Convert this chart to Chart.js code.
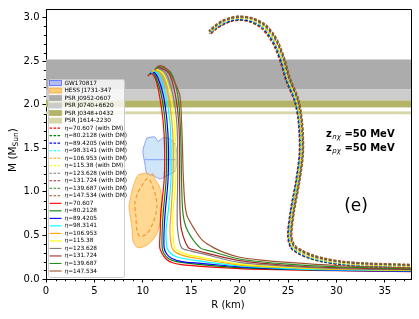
<!DOCTYPE html>
<html><head><meta charset="utf-8">
<script src="https://cdn.jsdelivr.net/npm/chart.js@4.4.0/dist/chart.umd.min.js"></script>
<style>html,body{margin:0;padding:0;background:#fff;}canvas{display:block;}</style>
</head><body>
<canvas id="c" width="419" height="319"></canvas>
<script>
// ---------- data ----------
const etaValues = ['70.607','80.2128','89.4205','98.3141','106.953','115.38','123.628','131.724','139.687','147.534'];
const xTickValues = [0,5,10,15,20,25,30,35];
const yTickValues = [0,0.5,1.0,1.5,2.0,2.5,3.0];
const pulsarNames = ['PSR J0952-0607','PSR J0740+6620','PSR J0348+0432','PSR J1614-2230'];
const pulsarLow  = [2.18, 2.05, 1.97, 1.892];
const pulsarHigh = [2.52, 2.18, 2.05, 1.924];

const gwR = [10.42,11.25,11.56,12.07,12.59,13.31,13.52,13.52,13.31,12.59,11.76,11.04,10.42,10.22,10.01,10.22,10.42];
const gwM = [1.62,1.63,1.58,1.62,1.62,1.55,1.44,1.36,1.24,1.19,1.15,1.19,1.21,1.32,1.47,1.56,1.62];
const gwLineR = [10.2,13.5];
const gwLineM = [1.37,1.37];
const hessR = [10.42,10.73,11.04,11.25,11.76,11.97,11.97,11.66,11.25,10.42,9.49,8.98,8.88,8.57,8.67,8.98,9.49,10.01,10.42];
const hessM = [1.22,1.19,1.21,1.15,1.05,0.90,0.75,0.59,0.48,0.39,0.36,0.44,0.59,0.82,0.90,1.05,1.19,1.21,1.22];
const hessInnerR = [10.73,11.25,11.46,11.04,10.42,9.70,9.39,9.29,9.18,9.49,10.01,10.42,10.73];
const hessInnerM = [1.14,0.99,0.82,0.64,0.52,0.49,0.56,0.71,0.87,0.99,1.09,1.15,1.14];

// M-R curves without dark matter: [R (km), M (Msun)]
const curvesNoDM = [
 [[40,0.083],[38,0.085],[30,0.095],[25,0.105],[20,0.12],[16,0.145],[14,0.165],[13,0.19],[12.4,0.23],[12.0,0.29],[11.75,0.36],[11.8,0.56],[11.85,0.75],[12.2,1.13],[12.25,1.5],[12.1,1.81],[11.7,2.12],[11.3,2.30],[10.85,2.36],[10.5,2.33]],
 [[40,0.088],[38,0.09],[30,0.10],[25,0.11],[20,0.13],[16,0.165],[13.5,0.20],[12.7,0.23],[12.2,0.29],[12.0,0.36],[12.0,0.56],[12.1,0.75],[12.4,1.13],[12.45,1.5],[12.3,1.81],[11.9,2.12],[11.4,2.30],[11.0,2.37],[10.65,2.345]],
 [[40,0.088],[38,0.09],[30,0.10],[25,0.115],[20,0.14],[16,0.18],[14,0.20],[13.0,0.235],[12.45,0.29],[12.2,0.36],[12.2,0.56],[12.3,0.75],[12.6,1.13],[12.65,1.5],[12.5,1.81],[12.1,2.12],[11.55,2.31],[11.1,2.38],[10.75,2.355]],
 [[40,0.092],[38,0.095],[30,0.105],[25,0.12],[20,0.15],[16,0.205],[13.6,0.25],[12.9,0.29],[12.5,0.36],[12.4,0.56],[12.6,0.75],[12.9,1.13],[12.9,1.5],[12.8,1.81],[12.35,2.12],[11.8,2.32],[11.2,2.39],[10.85,2.365]],
 [[40,0.095],[38,0.098],[30,0.11],[25,0.13],[20,0.16],[16,0.23],[14.5,0.26],[13.5,0.30],[13.0,0.36],[12.8,0.56],[12.9,0.75],[13.1,1.13],[13.15,1.5],[13.0,1.81],[12.6,2.12],[12.0,2.33],[11.3,2.40],[10.95,2.375]],
 [[40,0.097],[38,0.10],[30,0.115],[25,0.135],[20,0.17],[16,0.25],[14.8,0.275],[13.9,0.31],[13.3,0.36],[13.1,0.56],[13.1,0.75],[13.4,1.13],[13.4,1.5],[13.25,1.81],[12.85,2.12],[12.2,2.34],[11.4,2.41],[11.05,2.385]],
 [[40,0.10],[38,0.105],[30,0.12],[25,0.145],[20,0.19],[16,0.295],[15.0,0.32],[14.0,0.36],[13.6,0.56],[13.55,0.75],[13.6,1.13],[13.6,1.5],[13.5,1.81],[13.1,2.12],[12.45,2.35],[11.5,2.42],[11.15,2.395]],
 [[40,0.105],[38,0.11],[30,0.13],[25,0.155],[20,0.21],[16.5,0.30],[15.5,0.33],[14.7,0.36],[14.0,0.56],[13.85,0.75],[13.8,1.13],[13.8,1.5],[13.7,1.81],[13.35,2.12],[12.7,2.36],[11.6,2.43],[11.25,2.405]],
 [[40,0.11],[38,0.115],[30,0.14],[25,0.17],[20,0.23],[17,0.32],[15.9,0.36],[14.6,0.56],[14.15,0.75],[14.0,1.13],[13.95,1.5],[13.85,1.81],[13.6,2.12],[12.9,2.37],[11.75,2.44],[11.35,2.42]],
 [[40,0.12],[38,0.125],[30,0.155],[25,0.19],[22,0.22],[20,0.25],[18.5,0.30],[17.3,0.36],[16.2,0.44],[15.4,0.56],[14.5,0.75],[14.2,1.13],[14.1,1.5],[14.0,1.81],[13.8,2.12],[13.1,2.30],[12.5,2.41],[11.85,2.45],[11.45,2.435]]
];

// M-R curves with dark matter: [R (km), M (Msun)]
const curvesDM = [
 [[39,0.12],[33,0.14],[30.6,0.16],[28.4,0.2],[27.1,0.24],[26.05,0.29],[25.25,0.36],[24.95,0.5],[25.25,0.8],[25.75,1.1],[26.15,1.45],[26.05,1.8],[25.65,2.04],[24.75,2.28],[24.25,2.47],[23.65,2.65],[23.05,2.77],[22.2,2.88],[21.1,2.95],[20.0,2.97],[19.1,2.955],[18.35,2.92],[17.6,2.87],[17.0,2.81]],
 [[39,0.125],[33,0.145],[30.6,0.165],[28.45,0.2],[27.15,0.24],[26.1,0.29],[25.3,0.36],[25.0,0.5],[25.3,0.8],[25.8,1.1],[26.2,1.45],[26.1,1.8],[25.7,2.04],[24.8,2.285],[24.3,2.48],[23.7,2.66],[23.1,2.78],[22.25,2.89],[21.1,2.955],[20.0,2.975],[19.1,2.96],[18.35,2.925],[17.55,2.875],[16.95,2.815]],
 [[39,0.13],[33,0.15],[30.6,0.17],[28.5,0.205],[27.2,0.245],[26.15,0.295],[25.35,0.36],[25.05,0.5],[25.35,0.8],[25.85,1.1],[26.25,1.45],[26.15,1.8],[25.75,2.045],[24.85,2.29],[24.35,2.485],[23.75,2.665],[23.15,2.785],[22.3,2.895],[21.15,2.96],[20.0,2.98],[19.1,2.965],[18.3,2.93],[17.5,2.875],[16.9,2.815]],
 [[39,0.135],[33,0.155],[30.6,0.175],[28.5,0.21],[27.2,0.25],[26.2,0.3],[25.4,0.365],[25.1,0.5],[25.4,0.8],[25.9,1.1],[26.3,1.45],[26.2,1.8],[25.8,2.045],[24.9,2.295],[24.4,2.49],[23.8,2.67],[23.2,2.79],[22.3,2.9],[21.15,2.97],[20.0,2.99],[19.1,2.975],[18.3,2.94],[17.5,2.88],[16.9,2.82]],
 [[39,0.14],[33,0.16],[30.6,0.18],[28.55,0.215],[27.25,0.255],[26.25,0.305],[25.45,0.37],[25.15,0.5],[25.45,0.8],[25.95,1.1],[26.35,1.45],[26.25,1.8],[25.85,2.05],[24.95,2.3],[24.45,2.495],[23.85,2.675],[23.25,2.795],[22.35,2.905],[21.2,2.975],[20.0,2.995],[19.1,2.98],[18.3,2.945],[17.5,2.885],[16.9,2.825]],
 [[39,0.145],[33,0.165],[30.6,0.185],[28.6,0.22],[27.3,0.26],[26.3,0.31],[25.5,0.37],[25.2,0.5],[25.5,0.8],[26.0,1.1],[26.4,1.45],[26.3,1.8],[25.9,2.05],[25.0,2.30],[24.5,2.50],[23.9,2.68],[23.3,2.80],[22.4,2.91],[21.2,2.98],[20.0,3.0],[19.1,2.985],[18.3,2.95],[17.5,2.89],[16.9,2.83]],
 [[39,0.15],[33,0.17],[30.6,0.19],[28.65,0.225],[27.35,0.265],[26.35,0.315],[25.55,0.375],[25.25,0.5],[25.55,0.8],[26.05,1.1],[26.45,1.45],[26.35,1.8],[25.95,2.055],[25.05,2.305],[24.55,2.505],[23.95,2.685],[23.35,2.805],[22.45,2.915],[21.25,2.985],[20.0,3.005],[19.1,2.99],[18.3,2.955],[17.5,2.895],[16.9,2.835]],
 [[39,0.155],[33,0.175],[30.6,0.195],[28.7,0.23],[27.4,0.27],[26.4,0.32],[25.6,0.38],[25.3,0.5],[25.6,0.8],[26.1,1.1],[26.5,1.45],[26.4,1.8],[26.0,2.055],[25.1,2.31],[24.6,2.51],[24.0,2.69],[23.4,2.81],[22.5,2.92],[21.25,2.99],[20.0,3.01],[19.1,2.995],[18.25,2.96],[17.45,2.9],[16.85,2.84]],
 [[39,0.16],[33,0.18],[30.6,0.2],[28.75,0.235],[27.45,0.275],[26.45,0.325],[25.65,0.385],[25.35,0.5],[25.65,0.8],[26.15,1.1],[26.55,1.45],[26.45,1.8],[26.05,2.06],[25.15,2.315],[24.65,2.515],[24.05,2.695],[23.45,2.815],[22.55,2.925],[21.3,2.995],[20.0,3.015],[19.1,3.0],[18.25,2.965],[17.45,2.905],[16.85,2.845]],
 [[39,0.165],[33,0.185],[30.6,0.205],[28.8,0.24],[27.5,0.28],[26.5,0.33],[25.7,0.39],[25.4,0.5],[25.7,0.8],[26.2,1.1],[26.6,1.45],[26.5,1.8],[26.1,2.065],[25.2,2.32],[24.7,2.52],[24.1,2.7],[23.5,2.82],[22.6,2.93],[21.3,3.0],[20.0,3.02],[19.1,3.005],[18.2,2.97],[17.4,2.91],[16.8,2.85]]
];

// ---------- styles ----------
const curveColors = ['#ff0000','#008000','#0000ff','#00ffff','#ffa500','#ffff00','#808080','#a52a2a','#228b22','#a0522d'];
const bandColors = ['#acacac','#cccccc','#b3b36a','#d6d6a8'];
const FONT = '"DejaVu Sans", "Liberation Sans", sans-serif';

const toPts = (R, M) => R.map((r, i) => ({x: r, y: M[i]}));
const pairPts = arr => arr.map(p => ({x: p[0], y: p[1]}));

const datasets = [];
datasets.push({label:'GW170817', data: toPts(gwR, gwM), showLine:true, fill:'shape', tension:0.3,
  backgroundColor:'rgba(160,205,242,0.5)', borderColor:'rgba(90,110,255,0.6)', borderWidth:1, pointRadius:0, order:103});
datasets.push({label:'gwline', data: toPts(gwLineR, gwLineM), showLine:true, fill:false, tension:0,
  borderColor:'rgba(90,110,255,0.6)', borderWidth:1, pointRadius:0, order:102});
datasets.push({label:'HESS J1731-347', data: toPts(hessR, hessM), showLine:true, fill:'shape', tension:0.3,
  backgroundColor:'rgba(255,165,0,0.42)', borderColor:'rgba(255,160,40,0.7)', borderWidth:1, pointRadius:0, order:101});
datasets.push({label:'hessinner', data: toPts(hessInnerR, hessInnerM), showLine:true, fill:false, tension:0.3,
  borderColor:'rgba(240,150,40,0.95)', borderWidth:1.2, borderDash:[4,2.5], pointRadius:0, order:100});
curvesDM.forEach((c, i) => datasets.push({label:'η='+etaValues[i]+' (with DM)', data: pairPts(c), showLine:true, fill:false,
  tension:0.3, borderColor:curveColors[i], borderWidth:1.2, borderDash:[3,1.6], pointRadius:0, order:70-i}));
curvesNoDM.forEach((c, i) => datasets.push({label:'η='+etaValues[i], data: pairPts(c), showLine:true, fill:false,
  tension:0.3, borderColor:curveColors[i], borderWidth:1.2, pointRadius:0, order:50-i}));

const bandsPlugin = {
  id:'bands',
  beforeDatasetsDraw(chart){
    const {ctx, chartArea:a, scales:{y}} = chart;
    ctx.save();
    pulsarLow.forEach((lo, i) => {
      const y1 = y.getPixelForValue(pulsarHigh[i]), y2 = y.getPixelForValue(lo);
      ctx.fillStyle = bandColors[i];
      ctx.fillRect(a.left, y1, a.right - a.left, y2 - y1);
    });
    ctx.restore();
  }
};

function drawLegend(ctx){
  const x0 = 48, y0 = 79, w = 76, h = 198;
  ctx.save();
  ctx.beginPath();
  if (ctx.roundRect) ctx.roundRect(x0+0.5, y0+0.5, w, h, 2); else ctx.rect(x0+0.5, y0+0.5, w, h);
  ctx.fillStyle = 'rgba(255,255,255,0.8)'; ctx.fill();
  ctx.strokeStyle = '#cccccc'; ctx.lineWidth = 1; ctx.stroke();
  const items = [];
  items.push({t:'patch', fill:'rgba(120,140,245,0.5)', edge:'rgba(60,80,255,0.8)', label:'GW170817'});
  items.push({t:'patch', fill:'rgba(255,165,0,0.5)', edge:'rgba(255,160,40,0.8)', label:'HESS J1731-347'});
  pulsarNames.forEach((n, i) => items.push({t:'patch', fill:bandColors[i], edge:bandColors[i], label:n}));
  etaValues.forEach((e, i) => items.push({t:'dash', color:curveColors[i], eta:e, suffix:' (with DM)'}));
  etaValues.forEach((e, i) => items.push({t:'line', color:curveColors[i], eta:e, suffix:''}));
  const fs = 5.8;
  items.forEach((it, i) => {
    const cy = 83 + i * 7.52;
    if (it.t === 'patch') {
      ctx.fillStyle = it.fill; ctx.fillRect(49.5, cy-2.5, 12, 5);
      ctx.strokeStyle = it.edge; ctx.lineWidth = 0.8; ctx.strokeRect(49.5, cy-2.5, 12, 5);
    } else {
      ctx.beginPath(); ctx.moveTo(49.5, cy); ctx.lineTo(61.5, cy);
      ctx.strokeStyle = it.color; ctx.lineWidth = 1.1;
      ctx.setLineDash(it.t === 'dash' ? [2.6,1.4] : []); ctx.stroke(); ctx.setLineDash([]);
    }
    ctx.fillStyle = '#000'; ctx.textBaseline = 'middle'; ctx.textAlign = 'left';
    let x = 64.5;
    if (it.label) { ctx.font = fs + 'px ' + FONT; ctx.fillText(it.label, x, cy); }
    else {
      ctx.font = 'italic ' + fs + 'px ' + FONT; ctx.fillText('η', x, cy);
      x += ctx.measureText('η').width;
      ctx.font = fs + 'px ' + FONT; ctx.fillText('=' + it.eta + it.suffix, x, cy);
    }
  });
  ctx.restore();
}

const overlayPlugin = {
  id:'overlay',
  afterDraw(chart){
    const {ctx, chartArea:a, scales:{x, y}} = chart;
    ctx.save();
    ctx.strokeStyle = '#000'; ctx.lineWidth = 1;
    ctx.beginPath();
    ctx.moveTo(Math.round(a.left)+0.5, Math.round(a.top)+0.5);
    ctx.lineTo(Math.round(a.right)+0.5, Math.round(a.top)+0.5);
    ctx.lineTo(Math.round(a.right)+0.5, Math.round(a.bottom)+0.5);
    ctx.stroke();
    ctx.beginPath();
    for (let v = 1; v <= 37; v++) {
      if (v % 5 === 0) continue;
      const px = Math.round(x.getPixelForValue(v)) + 0.5;
      ctx.moveTo(px, a.bottom); ctx.lineTo(px, a.bottom + 2.2);
    }
    for (let k = 1; k <= 30; k++) {
      if (k % 5 === 0) continue;
      const py = Math.round(y.getPixelForValue(k / 10)) + 0.5;
      ctx.moveTo(a.left, py); ctx.lineTo(a.left - 2.2, py);
    }
    ctx.stroke();
    ctx.fillStyle = '#000';
    ctx.font = '10px ' + FONT; ctx.textAlign = 'center'; ctx.textBaseline = 'middle';
    ctx.fillText('R (km)', 228, 305);
    ctx.save();
    ctx.translate(12, 150); ctx.rotate(-Math.PI / 2);
    const f1 = '10.5px ' + FONT, f2 = '7.5px ' + FONT;
    ctx.font = f1; const wa = ctx.measureText('M (M').width, wc = ctx.measureText(')').width;
    ctx.font = f2; const wb = ctx.measureText('Sun').width;
    let tx = -(wa + wb + wc) / 2;
    ctx.textAlign = 'left'; ctx.textBaseline = 'alphabetic';
    ctx.font = f1; ctx.fillText('M (M', tx, 3.8); tx += wa;
    ctx.font = f2; ctx.fillText('Sun', tx, 6.3); tx += wb;
    ctx.font = f1; ctx.fillText(')', tx, 3.8);
    ctx.restore();
    const lines = [['nχ', 137], ['pχ', 151]];
    lines.forEach(([sub, base]) => {
      let tx2 = 326;
      ctx.textAlign = 'left'; ctx.textBaseline = 'alphabetic';
      ctx.font = 'bold 10px ' + FONT; ctx.fillText('z', tx2, base); tx2 += ctx.measureText('z').width;
      ctx.font = 'italic 7px ' + FONT; ctx.fillText(sub, tx2 + 0.5, base + 2.2); tx2 += ctx.measureText(sub).width + 0.5;
      ctx.font = 'bold 10px ' + FONT; ctx.fillText(' =50 MeV', tx2, base);
    });
    ctx.font = '17px ' + FONT; ctx.textAlign = 'center'; ctx.textBaseline = 'alphabetic';
    ctx.fillText('(e)', 356, 211);
    ctx.restore();
    drawLegend(ctx);
  }
};

new Chart(document.getElementById('c'), {
  type:'scatter',
  data:{datasets},
  plugins:[bandsPlugin, overlayPlugin],
  options:{
    responsive:false, animation:false, devicePixelRatio:1,
    layout:{padding:{top:7, right:8, left:0, bottom:0}},
    plugins:{legend:{display:false}, tooltip:{enabled:false}},
    elements:{point:{radius:0}},
    scales:{
      x:{type:'linear', min:0, max:37.7, afterFit(s){ s.height = 40; },
        afterBuildTicks(s){ s.ticks = xTickValues.map(v => ({value:v})); },
        ticks:{autoSkip:false, maxRotation:0, color:'#000', font:{family:FONT, size:10}, padding:3, callback:v => String(v)},
        grid:{drawOnChartArea:false, drawTicks:true, tickLength:3.5, color:'#000', tickWidth:1},
        border:{display:true, color:'#000', width:1}},
      y:{type:'linear', min:0, max:3.1, afterFit(s){ s.width = 46; },
        afterBuildTicks(s){ s.ticks = yTickValues.map(v => ({value:v})); },
        ticks:{autoSkip:false, color:'#000', font:{family:FONT, size:10}, padding:3, callback:v => Number(v).toFixed(1)},
        grid:{drawOnChartArea:false, drawTicks:true, tickLength:3.5, color:'#000', tickWidth:1},
        border:{display:true, color:'#000', width:1}}
    }
  }
});
</script>
</body></html>
